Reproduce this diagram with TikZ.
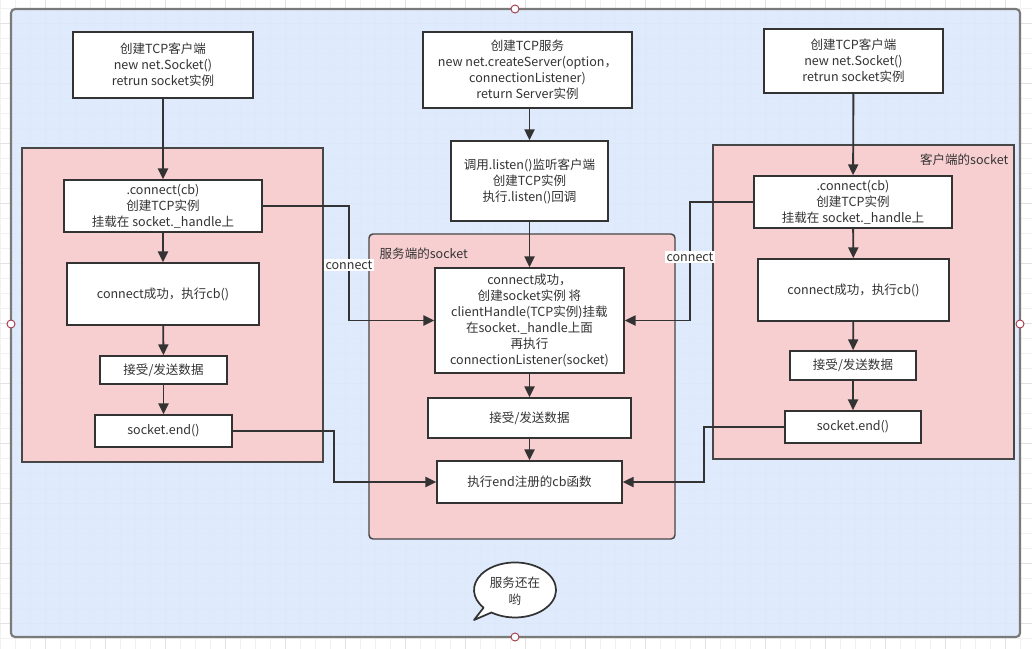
\documentclass[tikz,border=0pt]{standalone}
\usepackage{fontspec}
\setmainfont{Noto Sans CJK SC}
\usetikzlibrary{arrows.meta}
\definecolor{bluebg}{HTML}{DBE9FC}
\definecolor{pinkbg}{HTML}{F8CFD1}
\definecolor{ink}{HTML}{333333}
\definecolor{gridminor}{HTML}{F1F1F1}
\definecolor{gridmajor}{HTML}{E2E2E2}
\definecolor{panelgray}{HTML}{7A7A7A}
\definecolor{handle}{HTML}{A33B4A}
\begin{document}
\begin{tikzpicture}[x=0.75pt,y=-0.75pt,
  txt/.style={font=\fontsize{9.4}{12}\selectfont, text=ink},
  box/.style={txt, draw=ink, line width=1.3pt, fill=white, align=center, inner sep=0pt},
  sz/.style n args={2}{minimum width=#1*0.75pt, minimum height=#2*0.75pt},
  arr/.style={draw=ink, line width=1.4pt, -{Triangle[length=8pt,width=7.5pt]}},
  panel/.style={draw=ink!90, line width=1.1pt, fill=pinkbg},
  lbl/.style={txt, fill=white, inner sep=1.5pt},
  hdl/.style={draw=handle, line width=0.7pt, fill=white}]
\useasboundingbox (0,0) rectangle (1032,649);
% background grid
\fill[white] (0,0) rectangle (1032,649);
\foreach \i in {0,15,...,1035} \draw[gridminor, line width=0.6pt] (\i,0) -- (\i,649);
\foreach \j in {8,23,...,649} \draw[gridminor, line width=0.6pt] (0,\j) -- (1032,\j);
\foreach \i in {45,105,...,1035} \draw[gridmajor, line width=0.6pt] (\i,0) -- (\i,649);
\foreach \j in {23,83,...,649} \draw[gridmajor, line width=0.6pt] (0,\j) -- (1032,\j);
% outer panel
\fill[bluebg, fill opacity=0.88, rounded corners=3pt] (11,9) rectangle (1020,637);
\draw[panelgray, line width=1.6pt, rounded corners=3pt] (11,9) rectangle (1020,637);
% sub panels
\draw[panel] (22,148) rectangle (323,462);
\draw[panel, rounded corners=3pt] (369,234) rectangle (675,539);
\draw[panel] (713,145) rectangle (1014,459);
\node[txt, anchor=west] (srvlbl) at (375,254) {服务端的socket};
\node[txt, anchor=east] (clilbl) at (1013,160) {客户端的socket};
% left column
\node[box, sz={180}{66}] (A1) at (163,65) {创建TCP客户端\\new net.Socket()\\retrun socket实例};
\node[box, sz={198}{52}] (A2) at (163,206) {.connect(cb)\\创建TCP实例\\挂载在 socket.\_handle上};
\node[box, sz={192}{62}] (A3) at (163,294) {connect成功，执行cb()};
\node[box, sz={127}{28}] (A4) at (163.5,370) {接受/发送数据};
\node[box, sz={137}{32}] (A5) at (163.5,431) {socket.end()};
% middle column
\node[box, sz={209}{76}] (M1) at (527.5,70) {创建TCP服务\\new net.createServer(option，\\connectionListener)\\return Server实例};
\node[box, sz={157}{80}] (M2) at (529.5,181) {调用.listen()监听客户端\\创建TCP实例\\执行.listen()回调};
\node[box, sz={189}{105}] (M3) at (529.5,320.5) {connect成功，\\创建socket实例 将\\clientHandle(TCP实例)挂载\\在socket.\_handle上面\\再执行\\connectionListener(socket)};
\node[box, sz={203}{40}] (M4) at (529.5,418) {接受/发送数据};
\node[box, sz={185}{42}] (M5) at (529.5,482) {执行end注册的cb函数};
% right column
\node[box, sz={179}{64}] (R1) at (853.5,61) {创建TCP客户端\\new net.Socket()\\retrun socket实例};
\node[box, sz={198}{52}] (R2) at (853,202) {.connect(cb)\\创建TCP实例\\挂载在 socket.\_handle上};
\node[box, sz={191}{62}] (R3) at (853.5,290) {connect成功，执行cb()};
\node[box, sz={126}{29}] (R4) at (853,365.5) {接受/发送数据};
\node[box, sz={136}{32}] (R5) at (853,427) {socket.end()};
% vertical arrows
\draw[arr] (A1) -- (A2);
\draw[arr] (A2) -- (A3);
\draw[arr] (A3) -- (A4);
\draw[arr] (A4) -- (A5);
\draw[arr] (M1.south -| M2) -- (M2);
\draw[arr] (M2) -- (M3);
\draw[arr] (M3) -- (M4);
\draw[arr] (M4) -- (M5);
\draw[arr] (R1) -- (R2);
\draw[arr] (R2) -- (R3);
\draw[arr] (R3) -- (R4);
\draw[arr] (R4) -- (R5);
% cross connectors
\coordinate (cL) at (349,206);
\coordinate (cR) at (690,202);
\coordinate (eL) at (334,431);
\coordinate (eR) at (704,427);
\draw[arr] (A2.east) -- (cL) |- (M3.west);
\draw[arr] (R2.west) -- (cR) |- (M3.east);
\draw[arr] (A5.east) -- (eL) |- (M5.west);
\draw[arr] (R5.west) -- (eR) |- (M5.east);
\node[lbl] (connL) at (349,265) {connect};
\node[lbl] (connR) at (690,257) {connect};
% speech bubble
\draw[ink, line width=1.3pt, fill=white, line join=round]
  (491.5,612.5) arc[start angle=235, end angle=580, x radius=30.75pt, y radius=20.625pt]
  -- (474,620) -- cycle;
\node[txt, align=center, font=\fontsize{9.4}{12.5}\selectfont] (bubble) at (515,591) {服务还在\\哟};
% selection handles
\draw[hdl] (515,9) circle[radius=3pt];
\draw[hdl] (11,324) circle[radius=3pt];
\draw[hdl] (1020,324) circle[radius=3pt];
\draw[hdl] (515,637) circle[radius=3pt];
\end{tikzpicture}
\end{document}
